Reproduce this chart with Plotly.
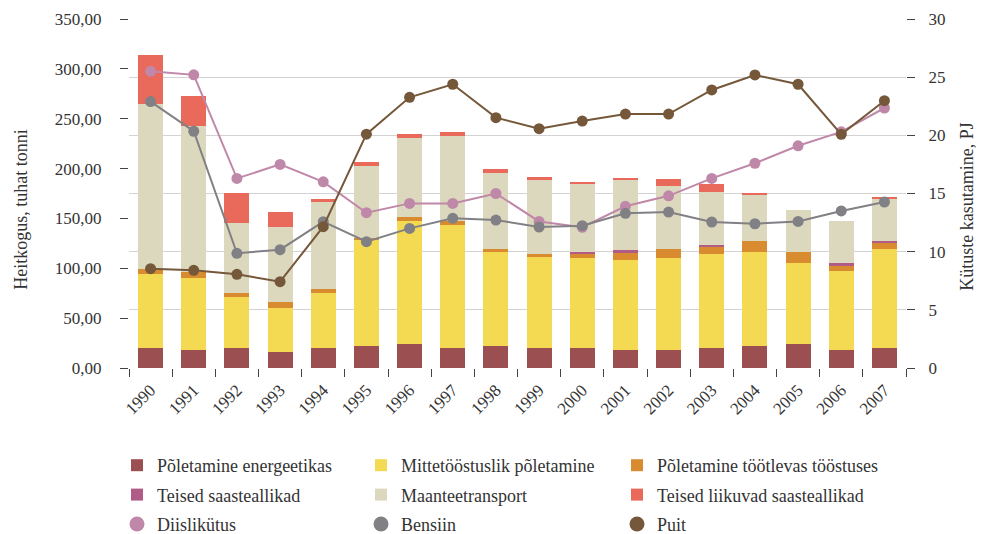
import plotly.graph_objects as go

years = [str(y) for y in range(1990, 2008)]

# Heitkogus, tuhat tonni (stacked bars)
energeetika = [20, 18, 20, 16, 20, 22, 24, 20, 22, 20, 20, 18, 18, 20, 22, 24, 18, 20]
mittetoostuslik = [74, 72, 51, 44, 55, 107, 123.5, 123.5, 94, 92, 90, 90, 92, 94, 94, 81, 79, 99]
tootlevas = [5, 6, 4, 6, 4, 1.5, 4, 4, 3, 2, 4, 8, 9, 7, 11, 11, 6, 6]
teised = [0, 0, 0, 0, 0, 0, 0, 0, 0, 0, 2, 2, 0, 2, 0, 0, 2, 2]
maantee = [166, 147, 70, 75, 87, 72.5, 79.5, 85.5, 76.5, 74.5, 68.5, 70.5, 63.5, 53.5, 46.5, 42.5, 42.5, 42.5]
liikuvad = [49, 30, 31, 15, 3, 4, 4, 4, 4, 3, 2, 2, 7, 8, 2, 0, 0, 2]

# Kütuste kasutamine, PJ (lines)
diisel = [25.5, 25.2, 16.3, 17.5, 16.0, 13.35, 14.15, 14.15, 15.0, 12.6, 12.1, 13.9, 14.8, 16.3, 17.6, 19.1, 20.3, 22.35]
bensiin = [22.9, 20.35, 9.86, 10.17, 12.58, 10.86, 12.0, 12.87, 12.72, 12.12, 12.23, 13.3, 13.4, 12.55, 12.4, 12.6, 13.5, 14.27]
puit = [8.54, 8.4, 8.05, 7.42, 12.15, 20.1, 23.27, 24.39, 21.52, 20.57, 21.23, 21.83, 21.83, 23.9, 25.19, 24.39, 20.09, 22.98]

FONT = "Liberation Serif, DejaVu Serif, serif"

fig = go.Figure()

# (name, values, colour, legend column)
bars = [
    ("Põletamine energeetikas", energeetika, "#9C4F51", "legend"),
    ("Mittetööstuslik põletamine", mittetoostuslik, "#F3DA52", "legend2"),
    ("Põletamine töötlevas tööstuses", tootlevas, "#D98B30", "legend3"),
    ("Teised saasteallikad", teised, "#B05C86", "legend"),
    ("Maanteetransport", maantee, "#DCD8BE", "legend2"),
    ("Teised liikuvad saasteallikad", liikuvad, "#E9695A", "legend3"),
]
for name, vals, col, leg in bars:
    fig.add_trace(go.Bar(x=years, y=vals, name=name, marker_color=col,
                         marker_line_width=0, yaxis="y", legend=leg, legendgroup=name))

lines = [
    ("Diislikütus", diisel, "#C088A8", "legend"),
    ("Bensiin", bensiin, "#808085", "legend2"),
    ("Puit", puit, "#75573A", "legend3"),
]
for name, vals, col, leg in lines:
    fig.add_trace(go.Scatter(x=years, y=vals, name=name, mode="lines+markers",
                             line=dict(color=col, width=2),
                             marker=dict(color=col, size=11),
                             yaxis="y2", showlegend=False))
# legend entries with circle only
for name, vals, col, leg in lines:
    fig.add_trace(go.Scatter(x=[None], y=[None], name=name, mode="markers",
                             marker=dict(color=col, size=15), yaxis="y2",
                             legend=leg, legendgroup=name))


def legend_col(xpx):
    return dict(xref="container", yref="container", x=xpx / 976, y=1 - 439 / 526,
                xanchor="left", yanchor="top", traceorder="grouped", tracegroupgap=3,
                font=dict(family=FONT, size=18, color="#333333"), bgcolor="rgba(0,0,0,0)")


# page has an 8px body margin, so the figure is 8px smaller than the window
fig.update_layout(
    width=976, height=526,
    margin=dict(l=121, r=78, t=11, b=166, autoexpand=False),
    barmode="stack", bargap=0.42,
    plot_bgcolor="white", paper_bgcolor="white",
    separators=", ",
    font=dict(family=FONT, size=17, color="#333333"),
    xaxis=dict(type="category", range=[-0.5, 17.5], tickangle=-45, ticks="outside",
               tickson="boundaries", ticklen=8, tickcolor="#444444", showgrid=False,
               showline=False, ticklabelstandoff=8, tickfont=dict(size=17)),
    yaxis=dict(range=[0, 350], dtick=50, tickformat=".2f", ticks="outside", ticklen=8,
               tickcolor="#444444", showgrid=False, zeroline=False, showline=False,
               ticklabelstandoff=15),
    yaxis2=dict(range=[0, 30], dtick=5, overlaying="y", side="right", ticks="outside",
                ticklen=8, tickcolor="#444444", showgrid=True, gridcolor="#d3d3d3",
                zeroline=False, showline=False, ticklabelstandoff=10),
    legend=legend_col(109),
    legend2=legend_col(353),
    legend3=legend_col(609),
    annotations=[
        dict(text="Heitkogus, tuhat tonni", xref="paper", yref="paper", x=-0.139, y=0.456,
             xanchor="center", yanchor="middle", textangle=-90, showarrow=False,
             font=dict(size=18)),
        dict(text="Kütuste kasutamine, PJ", xref="paper", yref="paper", x=1.079, y=0.463,
             xanchor="center", yanchor="middle", textangle=-90, showarrow=False,
             font=dict(size=18)),
    ],
)

fig.write_html("out.html")
